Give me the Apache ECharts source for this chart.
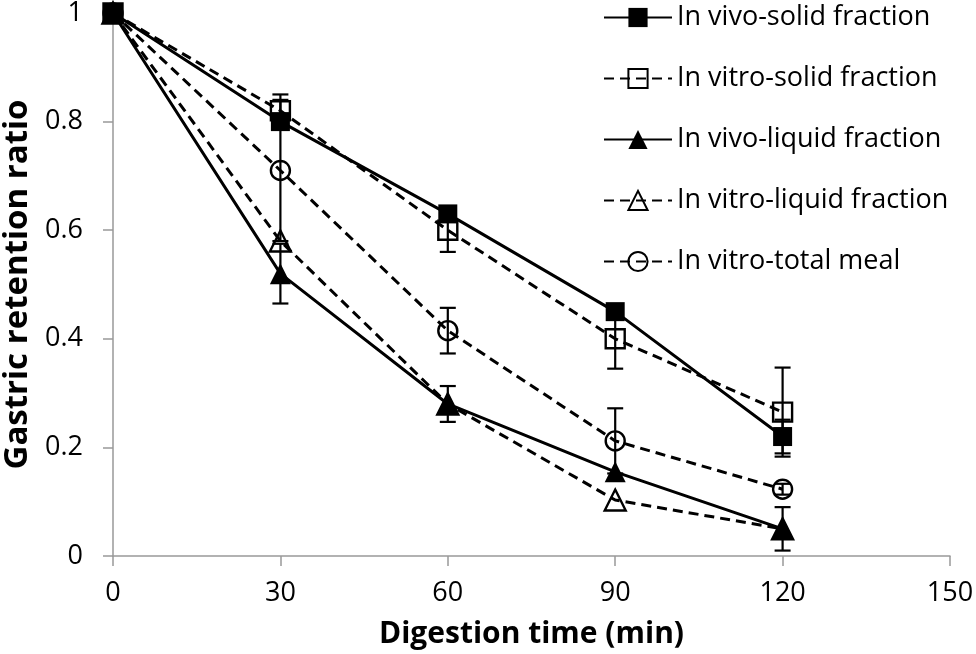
<!DOCTYPE html>
<html>
<head>
<meta charset="utf-8">
<script src="https://cdn.jsdelivr.net/npm/echarts@6/dist/echarts.min.js"></script>
<style>
  html, body { margin: 0; padding: 0; background: #fff; }
  #chart { width: 976px; height: 654px; }
</style>
</head>
<body>
<div id="chart"></div>
<script>
// digestion time (min)
const times = [0, 30, 60, 90, 120];

// gastric retention ratio
const inVivoSolid = [1, 0.80, 0.63, 0.45, 0.22];
const inVitroSolid = [1, 0.82, 0.60, 0.40, 0.265];
const inVivoLiquid = [1, 0.52, 0.28, 0.155, 0.05];
const inVitroLiquid = [1, 0.58, 0.28, 0.103, 0.05];
const inVitroTotal = [1, 0.71, 0.415, 0.212, 0.123];

// error bar half widths (0 = none)
const errVivoSolid = [0, 0, 0, 0, 0.031];
const errVitroSolid = [0, 0.03, 0.04, 0.055, 0.082];
const errVivoLiquid = [0, 0.055, 0.033, 0, 0.04];
const errVitroLiquid = [0, 0, 0, 0, 0];
const errVitroTotal = [0, 0.13, 0.042, 0.06, 0.01];

const names = [
  'In vivo-solid fraction',
  'In vitro-solid fraction',
  'In vivo-liquid fraction',
  'In vitro-liquid fraction',
  'In vitro-total meal'
];

const chart = echarts.init(document.getElementById('chart'));

function pairs(vals) {
  return times.map((t, i) => [t, vals[i]]);
}

function errData(vals, errs) {
  let out = [];
  times.forEach((t, i) => {
    if (errs[i] > 0) out.push([t, vals[i] - errs[i], vals[i] + errs[i]]);
  });
  return out;
}

const dashed = [10, 6];

function lineSeries(name, vals, symbol, open, dash) {
  return {
    name: name,
    type: 'line',
    data: pairs(vals),
    symbol: symbol,
    symbolSize: symbol === 'triangle' ? 21 : 19,
    showAllSymbol: true,
    z: 2,
    lineStyle: { color: '#000', width: 3, type: dash ? dashed : 'solid' },
    // open markers have no fill, the line shows through
    itemStyle: open
      ? { color: 'rgba(255,255,255,0)', borderColor: '#000', borderWidth: 2.4 }
      : { color: '#000', borderColor: '#000', borderWidth: 0 },
    emphasis: { disabled: true }
  };
}

function errSeries(vals, errs) {
  return {
    type: 'custom',
    z: 3,
    silent: true,
    data: errData(vals, errs),
    renderItem: function (params, api) {
      const lo = api.coord([api.value(0), api.value(1)]);
      const hi = api.coord([api.value(0), api.value(2)]);
      const w = 8;
      const st = { stroke: '#000', lineWidth: 2.2 };
      return {
        type: 'group',
        children: [
          { type: 'line', shape: { x1: lo[0], y1: lo[1], x2: hi[0], y2: hi[1] }, style: st },
          { type: 'line', shape: { x1: lo[0] - w, y1: lo[1], x2: lo[0] + w, y2: lo[1] }, style: st },
          { type: 'line', shape: { x1: hi[0] - w, y1: hi[1], x2: hi[0] + w, y2: hi[1] }, style: st }
        ]
      };
    }
  };
}

const font = 'Open Sans';

const option = {
  animation: false,
  backgroundColor: '#fff',
  grid: { left: 113, right: 26, top: 13, bottom: 98, outerBoundsMode: 'none' },
  legend: {
    orient: 'vertical',
    left: 603,
    top: 4,
    padding: 0,
    itemWidth: 68,
    itemHeight: 24,
    itemGap: 34,
    data: names,
    textStyle: { fontFamily: font, fontSize: 27, lineHeight: 24, color: '#000' }
  },
  xAxis: {
    type: 'value',
    min: 0,
    max: 150,
    interval: 30,
    name: 'Digestion time (min)',
    nameLocation: 'middle',
    nameGap: 63,
    nameTextStyle: { fontFamily: font, fontSize: 30, fontWeight: 'bold', color: '#000' },
    axisLine: { show: true, lineStyle: { color: '#999', width: 1.5 } },
    axisTick: { show: true, length: 10, lineStyle: { color: '#999', width: 1.5 } },
    axisLabel: { fontFamily: font, fontSize: 27, color: '#000', margin: 24 },
    splitLine: { show: false }
  },
  yAxis: {
    type: 'value',
    min: 0,
    max: 1,
    interval: 0.2,
    name: 'Gastric retention ratio',
    nameLocation: 'middle',
    nameGap: 73,
    nameRotate: 90,
    nameTextStyle: { fontFamily: font, fontSize: 33, fontWeight: 'bold', color: '#000' },
    axisLine: { show: true, lineStyle: { color: '#999', width: 1.5 } },
    axisTick: { show: true, length: 10, lineStyle: { color: '#999', width: 1.5 } },
    axisLabel: { fontFamily: font, fontSize: 27, color: '#000', margin: 30 },
    splitLine: { show: false }
  },
  series: [
    lineSeries(names[0], inVivoSolid, 'rect', false, false),
    lineSeries(names[1], inVitroSolid, 'rect', true, true),
    lineSeries(names[2], inVivoLiquid, 'triangle', false, false),
    lineSeries(names[3], inVitroLiquid, 'triangle', true, true),
    lineSeries(names[4], inVitroTotal, 'circle', true, true),
    errSeries(inVivoSolid, errVivoSolid),
    errSeries(inVitroSolid, errVitroSolid),
    errSeries(inVivoLiquid, errVivoLiquid),
    errSeries(inVitroLiquid, errVitroLiquid),
    errSeries(inVitroTotal, errVitroTotal)
  ]
};

chart.setOption(option);
</script>
</body>
</html>
